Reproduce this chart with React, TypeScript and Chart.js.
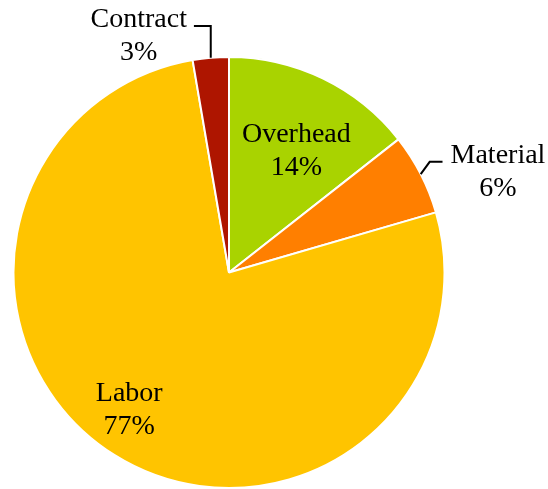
import React, { useEffect, useRef } from "react";
import { Chart, registerables } from "chart.js";

Chart.register(...registerables);

const categories = ["Overhead", "Material", "Labor", "Contract"];
const values = [14.4, 6.1, 76.8, 2.7];
const pctLabels = ["14%", "6%", "77%", "3%"];
const colors = ["#A9D300", "#FF7F00", "#FFC400", "#AE1500"];

// label placement: first-line baseline position as a fraction of the radius from the pie centre (style only)
const labelPlacement = [
  { dx: 0.3125, dy: -0.606, leader: null },
  { dx: 1.248, dy: -0.509, leader: "left" },
  { dx: -0.463, dy: 0.597, leader: null },
  { dx: -0.419, dy: -1.139, leader: "right" },
];

const FONT = "28px 'Liberation Serif'";
const LINE_H = 33;

const labelPlugin = {
  id: "pieLabels",
  afterDatasetsDraw(chart: any) {
    const ctx = chart.ctx;
    const meta = chart.getDatasetMeta(0);
    ctx.save();
    ctx.font = FONT;
    ctx.fillStyle = "#000";
    ctx.textAlign = "center";
    ctx.textBaseline = "alphabetic";
    meta.data.forEach((arc: any, i: number) => {
      const { x, y, outerRadius, startAngle, endAngle } = arc.getProps(
        ["x", "y", "outerRadius", "startAngle", "endAngle"],
        true
      );
      const p = labelPlacement[i];
      const cx = x + p.dx * outerRadius;
      const b1 = y + p.dy * outerRadius;
      ctx.fillText(categories[i], cx, b1);
      ctx.fillText(pctLabels[i], cx, b1 + LINE_H);
      if (p.leader) {
        const mid = (startAngle + endAngle) / 2;
        const sx = x + Math.cos(mid) * outerRadius;
        const sy = y + Math.sin(mid) * outerRadius;
        const w = ctx.measureText(categories[i]).width;
        const ly = b1 - 1;
        ctx.beginPath();
        ctx.strokeStyle = "#000";
        ctx.lineWidth = 2;
        ctx.moveTo(sx, sy);
        if (p.leader === "right") {
          ctx.lineTo(sx, ly);
          ctx.lineTo(cx + w / 2 + 7, ly);
        } else {
          ctx.lineTo(sx + 9, ly);
          ctx.lineTo(cx - w / 2 - 8, ly);
        }
        ctx.stroke();
      }
    });
    ctx.restore();
  },
};

export default function App() {
  const ref = useRef<HTMLCanvasElement>(null);
  useEffect(() => {
    document.body.style.margin = "0";
    const chart = new Chart(ref.current!, {
      type: "pie",
      data: {
        labels: categories,
        datasets: [
          {
            data: values,
            backgroundColor: colors,
            borderColor: "#FFFFFF",
            borderWidth: 2,
          },
        ],
      },
      options: {
        responsive: false,
        animation: false,
        layout: { padding: { left: 12, right: 102, top: 56, bottom: -1 } },
        plugins: {
          legend: { display: false },
          tooltip: { enabled: false },
        },
      },
      plugins: [labelPlugin],
    });
    return () => chart.destroy();
  }, []);
  return (
    <div style={{ width: 548, height: 489, background: "#fff" }}>
      <canvas ref={ref} width={548} height={489} />
    </div>
  );
}
